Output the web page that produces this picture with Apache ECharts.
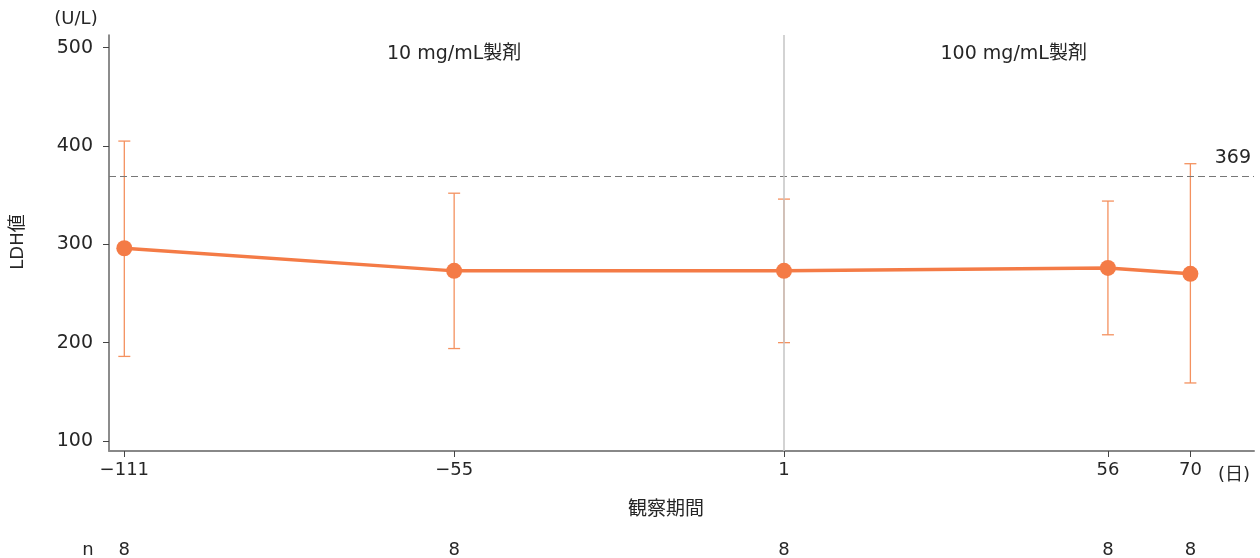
<!DOCTYPE html>
<html>
<head>
<meta charset="utf-8">
<script src="https://cdn.jsdelivr.net/npm/echarts@6/dist/echarts.min.js"></script>
<style>
  html, body { margin: 0; padding: 0; background: #fff; }
  #chart { width: 1260px; height: 558px; }
</style>
</head>
<body>
<div id="chart"></div>
<script>
// Observation days (x positions) and LDH summary per visit
const days = [-111, -55, 1, 56, 70];
const ldhMean = [296, 273, 273, 276, 270];
const ldhUpper = [405, 352, 346, 344, 382];
const ldhLower = [186, 194, 200, 208, 159];
const nCounts = [8, 8, 8, 8, 8];
const yTicks = [100, 200, 300, 400, 500];
const upperLimit = 369;
const switchDay = 1;
const phaseLabels = ['10 mg/mL製剤', '100 mg/mL製剤'];
const phaseCentres = [-55, 40];

const FONT = '"DejaVu Sans", "Noto Sans CJK JP", sans-serif';
const TEXT = '#262626';
const ORANGE = '#f47b46';
const ORANGE_LIGHT = '#f4915f';

const X_MIN = -113.6, X_MAX = 80.8;
const Y_MIN = 89.8, Y_MAX = 512.9;

const chart = echarts.init(document.getElementById('chart'));

const meanData = days.map((d, i) => [d, ldhMean[i]]);
const barData = days.map((d, i) => [d, ldhLower[i], ldhUpper[i]]);
const countData = days.map((d, i) => [d, nCounts[i]]);

const option = {
  animation: false,
  textStyle: { fontFamily: FONT },
  grid: { left: 109, right: 6, top: 35, bottom: 107, containLabel: false },
  xAxis: {
    type: 'value',
    min: X_MIN,
    max: X_MAX,
    splitLine: { show: false },
    axisLine: { show: true, onZero: false, lineStyle: { color: '#888', width: 2 } },
    axisTick: { show: true, customValues: days, length: 6, lineStyle: { color: '#444', width: 1 } },
    axisLabel: {
      customValues: days,
      fontFamily: FONT, fontSize: 18, color: TEXT, margin: 10,
      formatter: v => String(v).replace('-', '\u2212')
    }
  },
  yAxis: {
    type: 'value',
    min: Y_MIN,
    max: Y_MAX,
    splitLine: { show: false },
    axisLine: { show: true, onZero: false, lineStyle: { color: '#666', width: 1.5 } },
    axisTick: { show: true, customValues: yTicks, length: 6, lineStyle: { color: '#444', width: 1 } },
    axisLabel: { customValues: yTicks, fontFamily: FONT, fontSize: 19, color: TEXT, margin: 16 }
  },
  series: [
    {
      // reference lines: upper limit (dashed) and formulation switch (solid)
      type: 'line',
      data: [],
      silent: true,
      markLine: {
        symbol: 'none',
        silent: true,
        label: { show: false },
        data: [
          { yAxis: upperLimit, lineStyle: { color: '#777', type: [7, 4], width: 1.2 } },
          { xAxis: switchDay, lineStyle: { color: '#c4c4c4', type: 'solid', width: 1.5 } }
        ]
      }
    },
    {
      // error bars
      type: 'custom',
      silent: true,
      z: 3,
      data: barData,
      renderItem: (params, api) => {
        const lo = api.coord([api.value(0), api.value(1)]);
        const hi = api.coord([api.value(0), api.value(2)]);
        const hw = 6;
        const style = { stroke: ORANGE_LIGHT, lineWidth: 1.3, fill: null };
        return {
          type: 'group',
          children: [
            { type: 'line', shape: { x1: lo[0], y1: lo[1], x2: hi[0], y2: hi[1] }, style },
            { type: 'line', shape: { x1: hi[0] - hw, y1: hi[1], x2: hi[0] + hw, y2: hi[1] }, style },
            { type: 'line', shape: { x1: lo[0] - hw, y1: lo[1], x2: lo[0] + hw, y2: lo[1] }, style }
          ]
        };
      }
    },
    {
      type: 'line',
      data: meanData,
      z: 5,
      symbol: 'circle',
      symbolSize: 16,
      lineStyle: { color: ORANGE, width: 3.5 },
      itemStyle: { color: ORANGE },
      silent: true
    },
    {
      // n per visit, under the axis
      type: 'custom',
      silent: true,
      data: countData,
      clip: false,
      renderItem: (params, api) => {
        const p = api.coord([api.value(0), Y_MIN]);
        return {
          type: 'text',
          style: {
            text: String(api.value(1)),
            x: p[0], y: 550,
            align: 'center', verticalAlign: 'middle',
            font: '18px ' + FONT, fill: TEXT
          }
        };
      }
    },
    {
      // formulation period labels
      type: 'custom',
      silent: true,
      clip: false,
      data: phaseCentres.map((c, i) => [c, i]),
      renderItem: (params, api) => {
        const p = api.coord([api.value(0), Y_MAX]);
        return {
          type: 'text',
          style: {
            text: phaseLabels[api.value(1)],
            x: p[0], y: 54,
            align: 'center', verticalAlign: 'middle',
            font: '19px ' + FONT, fill: TEXT
          }
        };
      }
    },
    {
      // upper limit value label
      type: 'custom',
      silent: true,
      clip: false,
      data: [[X_MAX, upperLimit]],
      renderItem: (params, api) => {
        const p = api.coord([api.value(0), api.value(1)]);
        return {
          type: 'text',
          style: {
            text: String(api.value(1)),
            x: p[0] - 3, y: p[1] - 18,
            align: 'right', verticalAlign: 'middle',
            font: '19px ' + FONT, fill: TEXT
          }
        };
      }
    }
  ],
  graphic: [
    { type: 'text', x: 76, y: 19, style: { text: '(U/L)', font: '18px ' + FONT, fill: TEXT, align: 'center', verticalAlign: 'middle' } },
    { type: 'text', x: 18, y: 242, rotation: Math.PI / 2, style: { text: 'LDH値', font: '18px ' + FONT, fill: TEXT, align: 'center', verticalAlign: 'middle' } },
    { type: 'text', x: 666, y: 510, style: { text: '観察期間', font: '19px ' + FONT, fill: TEXT, align: 'center', verticalAlign: 'middle' } },
    { type: 'text', x: 1234, y: 475, style: { text: '(日)', font: '18px ' + FONT, fill: TEXT, align: 'center', verticalAlign: 'middle' } },
    { type: 'text', x: 88, y: 550, style: { text: 'n', font: '18px ' + FONT, fill: TEXT, align: 'center', verticalAlign: 'middle' } }
  ]
};

chart.setOption(option);
</script>
</body>
</html>
